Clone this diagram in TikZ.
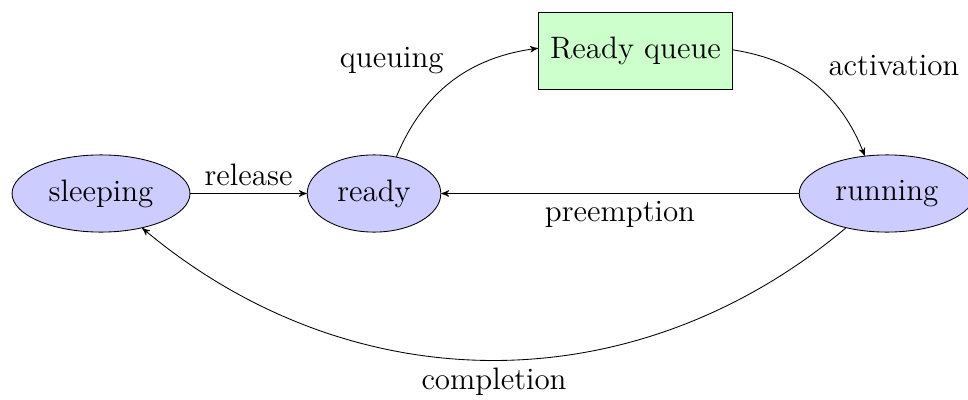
\documentclass[tikz,border=0pt]{standalone}
\usepackage{xcolor}
\usepackage{tikz}
\usetikzlibrary{shapes,arrows,positioning}

\begin{document}
\begin{tikzpicture}[font=\Large, >=stealth',
        state/.style={ellipse, draw, fill=blue!20, inner xsep=4.9pt, minimum height=1.26cm},
        queuebox/.style={rectangle, draw, fill=green!20, inner xsep=5.5pt, minimum height=1.26cm}]
    \useasboundingbox (-1.649,-3.355) rectangle (14.154,3.159);
    % task states
    \node[state] (sleeping) at (0,0) {sleeping};
    \node[state] (ready) at (4.457,0) {ready};
    \node[state] (running) at (12.83,0) {running};
    \node[queuebox] (queue) at (8.726,2.334) {Ready queue};
    % transitions
    \draw[->] (sleeping) -- node[above] {release} (ready);
    \draw[->] (ready) to[bend left] node[above left] {queuing} (queue);
    \draw[->] (queue) to[bend left] node[above right, xshift=3pt] {activation} (running);
    \draw[->] (running) -- node[below] {preemption} (ready);
    \draw[->] (running) to[bend left=40] node[below] {completion} (sleeping);
\end{tikzpicture}
\end{document}
